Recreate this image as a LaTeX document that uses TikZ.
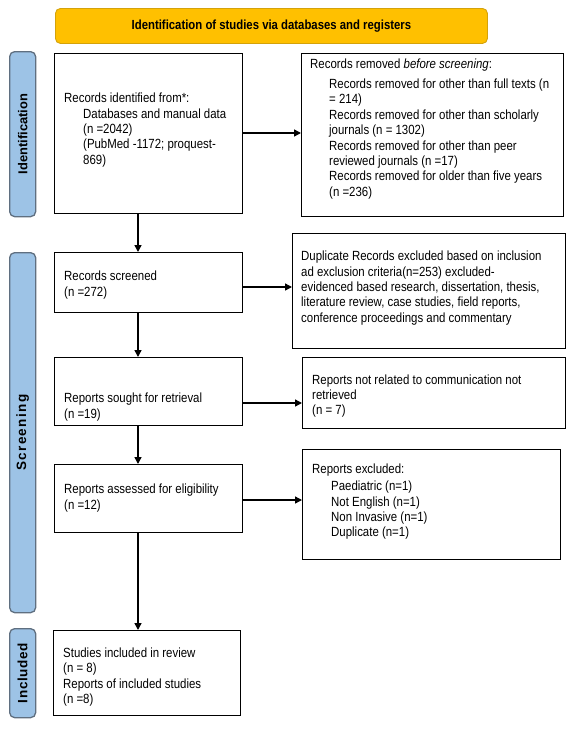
\documentclass[tikz,border=0pt]{standalone}
\usepackage{fontspec}
\setmainfont{Liberation Sans}[FakeStretch=0.86]
\newfontfamily\labfont{Liberation Sans}
\usetikzlibrary{arrows.meta}
\definecolor{bannerfill}{HTML}{FFC000}
\definecolor{bannerline}{HTML}{D4A20A}
\definecolor{labfill}{HTML}{9DC3E6}
\definecolor{labline}{HTML}{5F6F80}
\newcommand{\bodyf}{\fontsize{13.3}{15.4}\selectfont}
\newcommand{\ind}{\hspace*{19pt}}
\tikzset{
  box/.style={draw=black, line width=0.9pt, inner sep=0pt, anchor=north west, fill=white},
  txt/.style={inner sep=0pt, align=left, anchor=west, font=\bodyf},
  sidelab/.style={draw=labline, fill=labfill, line width=1.3pt, rounded corners=5pt, inner sep=0pt, anchor=north west, minimum width=26pt},
  sidetxt/.style={inner sep=0pt, rotate=90, font=\labfont\bfseries},
  arr/.style={line width=1.4pt, -{Triangle[length=7pt,width=7pt]}}
}
\begin{document}
\begin{tikzpicture}[x=1pt,y=-1pt]
\useasboundingbox (0,0) rectangle (566,736);

% banner
\node[draw=bannerline, fill=bannerfill, line width=0.9pt, rounded corners=5pt, inner sep=0pt,
      anchor=north west, minimum width=432pt, minimum height=35pt] (banner) at (55,8) {};
\node[inner sep=0pt, font=\fontsize{13.2}{15}\selectfont\bfseries] (bannertxt) at (banner.center)
  {Identification of studies via databases and registers};

% side labels
\node[sidelab, minimum height=165pt] (lid) at (9,51) {};
\node[sidetxt, font=\labfont\bfseries\fontsize{12.9}{14}\selectfont] (lidt) at (lid.center) {Identification};
\node[sidelab, minimum height=360pt] (lsc) at (9,252) {};
\node[sidetxt, font=\labfont\bfseries\fontsize{13.5}{14}\selectfont\addfontfeatures{LetterSpace=10}] (lsct) at (lsc.center) {Screening};
\node[sidelab, minimum height=89pt] (lin) at (9,628) {};
\node[sidetxt, font=\labfont\bfseries\fontsize{13.5}{14}\selectfont\addfontfeatures{LetterSpace=5}] (lint) at (lin.center) {Included};

% left column boxes
\node[box, minimum width=188pt, minimum height=160pt] (b1) at (54,53) {};
\node[txt] (b1t) at (64,130) {Records identified from*:\\
\ind Databases and manual data\\
\ind (n =2042)\\
\ind (PubMed -1172; proquest-\\
\ind 869)};

\node[box, minimum width=188pt, minimum height=60pt] (b2) at (54,252) {};
\node[txt] (b2t) at (64,285) {Records screened\\(n =272)};

\node[box, minimum width=188pt, minimum height=68pt] (b3) at (54,357) {};
\node[txt] (b3t) at (64,407) {Reports sought for retrieval\\(n =19)};

\node[box, minimum width=188pt, minimum height=68pt] (b4) at (54,464) {};
\node[txt] (b4t) at (64,498) {Reports assessed for eligibility\\(n =12)};

\node[box, minimum width=187pt, minimum height=85pt] (b5) at (53,630) {};
\node[txt] (b5t) at (63,677) {Studies included in review\\(n = 8)\\Reports of included studies\\(n =8)};

% right column boxes
\node[box, minimum width=262pt, minimum height=163pt] (r1) at (301,53) {};
\node[txt] (r1t) at (310,129) {Records removed \textit{before screening}:\\[4.5pt]
\ind Records removed for other than full texts (n\\
\ind = 214)\\
\ind Records removed for other than scholarly\\
\ind journals (n = 1302)\\
\ind Records removed for other than peer\\
\ind reviewed journals (n =17)\\
\ind Records removed for older than five years\\
\ind (n =236)};

\node[box, minimum width=273pt, minimum height=115pt] (r2) at (292,233) {};
\node[txt] (r2t) at (301,288) {Duplicate Records excluded based on inclusion\\
ad exclusion criteria(n=253) excluded-\\
evidenced based research, dissertation, thesis,\\
literature review, case studies, field reports,\\
conference proceedings and commentary};

\node[box, minimum width=263pt, minimum height=71pt] (r3) at (302,357) {};
\node[txt] (r3t) at (312,396) {Reports not related to communication not\\retrieved\\(n = 7)};

\node[box, minimum width=258pt, minimum height=110pt] (r4) at (302,449) {};
\node[txt] (r4t) at (312,502) {Reports excluded:\\[1.5pt]
\ind Paediatric (n=1)\\
\ind Not English (n=1)\\
\ind Non Invasive (n=1)\\
\ind Duplicate (n=1)};

% connectors
\coordinate (ax) at (138,0);
\coordinate (h1) at (0,133);
\coordinate (h2) at (0,287);
\coordinate (h3) at (0,403);
\coordinate (h4) at (0,500);
\draw[arr] (b1.south -| ax) -- (b2.north -| ax);
\draw[arr] (b2.south -| ax) -- (b3.north -| ax);
\draw[arr] (b3.south -| ax) -- (b4.north -| ax);
\draw[arr] (b4.south -| ax) -- (b5.north -| ax);
\draw[arr] (b1.east |- h1) -- (r1.west |- h1);
\draw[arr] (b2.east |- h2) -- (r2.west |- h2);
\draw[arr] (b3.east |- h3) -- (r3.west |- h3);
\draw[arr] (b4.east |- h4) -- (r4.west |- h4);
\end{tikzpicture}
\end{document}
